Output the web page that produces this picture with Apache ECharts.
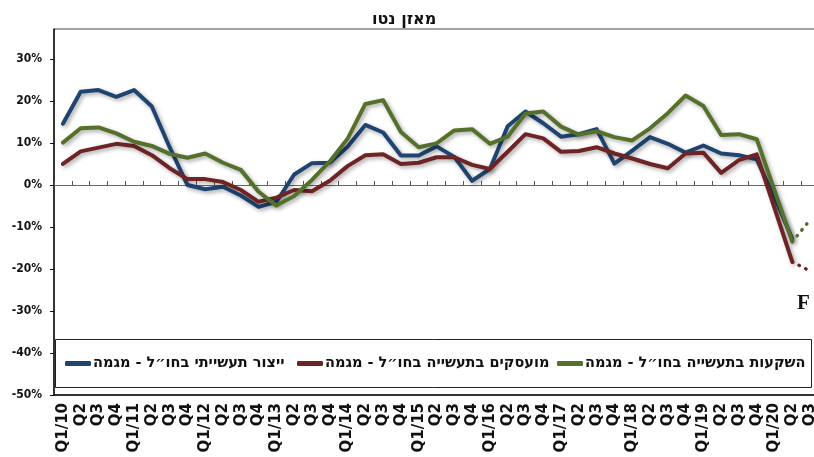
<!DOCTYPE html>
<html><head><meta charset="utf-8">
<script src="https://cdn.jsdelivr.net/npm/echarts@6/dist/echarts.min.js"></script>
<style>html,body{margin:0;padding:0;background:#fff}#c{width:814px;height:457px}</style>
</head><body><div id="c"></div>
<script>
const categories = [
  'Q1/10','Q2','Q3','Q4','Q1/11','Q2','Q3','Q4','Q1/12','Q2','Q3','Q4',
  'Q1/13','Q2','Q3','Q4','Q1/14','Q2','Q3','Q4','Q1/15','Q2','Q3','Q4',
  'Q1/16','Q2','Q3','Q4','Q1/17','Q2','Q3','Q4','Q1/18','Q2','Q3','Q4',
  'Q1/19','Q2','Q3','Q4','Q1/20','Q2','Q3'
];
const seriesNames = ['ייצור תעשייתי בחו״ל - מגמה','מועסקים בתעשייה בחו״ל - מגמה','השקעות בתעשייה בחו״ל - מגמה'];
const production = [14.6,22.2,22.6,21.0,22.6,18.7,9.0,0.0,-1.0,-0.4,-2.5,-5.2,-4.0,2.5,5.2,5.3,9.1,14.3,12.5,7.0,7.0,9.2,6.7,1.0,3.8,14.0,17.5,14.7,11.5,12.1,13.3,5.1,8.2,11.4,9.8,7.7,9.4,7.5,7.1,6.1,-3.0,-12.8,null];
const employees = [5.0,8.0,8.9,9.8,9.3,7.1,4.0,1.4,1.4,0.7,-1.2,-4.0,-3.0,-1.2,-1.5,1.0,4.5,7.1,7.3,5.0,5.3,6.6,6.6,4.8,3.8,7.9,12.1,11.1,7.9,8.1,9.0,7.5,6.3,5.0,4.0,7.5,7.7,2.9,5.9,7.3,-5.5,-18.3,null];
const investment = [10.1,13.5,13.7,12.3,10.3,9.3,7.4,6.5,7.5,5.3,3.6,-1.6,-4.9,-2.6,1.2,5.6,11.0,19.3,20.2,12.6,9.0,9.9,13.0,13.3,9.8,11.5,17.0,17.5,13.9,12.0,12.8,11.4,10.6,13.5,17.1,21.3,18.8,11.9,12.1,10.9,-1.3,-13.5,null];
const forecastStartIndex = 41;
const employeesForecastEnd = -20.5;
const investmentForecastEnd = -8.3;
const yMin = -50, yMax = 37.14, yStep = 10;

function forecast(arr, endVal) {
  return categories.map((c, i) => i === forecastStartIndex ? arr[i] : (i === forecastStartIndex + 1 ? endVal : null));
}
const colors = ['#1F4470', '#6E2424', '#55702B'];
const font = '"DejaVu Sans", Verdana, sans-serif';
const shadow = {shadowColor:'rgba(0,0,0,0.35)', shadowBlur:4, shadowOffsetX:2, shadowOffsetY:2};

function mainSeries(name, data, color, z) {
  return {name, type:'line', data, symbol:'none', z, color,
    lineStyle:Object.assign({color, width:4, join:'round', cap:'round'}, shadow),
    emphasis:{disabled:true}, animation:false};
}
function dotSeries(name, data, color, z) {
  return {name: name + ' F', type:'line', data, symbol:'none', z, color,
    lineStyle:{color, width:3.5, type:[0.5,7], cap:'round'},
    emphasis:{disabled:true}, animation:false};
}
function legend(idx, left) {
  return {data:[seriesNames[idx]], left, top:356, padding:0, icon:'roundRect',
    itemWidth:26, itemHeight:5, itemGap:0, selectedMode:false,
    textStyle:{fontFamily:font, fontWeight:'bold', fontSize:14.5, color:'#111', padding:[0,0,0,-3]}};
}

const chart = echarts.init(document.getElementById('c'), null, {renderer:'canvas'});
chart.setOption({
  animation:false,
  title:{text:'מאזן נטו', left:372, top:12, padding:0,
    textStyle:{fontFamily:font, fontWeight:'bold', fontSize:16, color:'#111'}},
  grid:{left:54, width:765, top:29, bottom:62, outerBoundsMode:'none', containLabel:false,
    show:true, borderColor:'#444', borderWidth:1, backgroundColor:'transparent'},
  legend:[legend(0,65), legend(1,297), legend(2,557)],
  xAxis:[
    {type:'category', data:categories, boundaryGap:true,
      axisLine:{onZero:false, lineStyle:{color:'#111', width:1.5}},
      axisTick:{show:false},
      axisLabel:{interval:0, rotate:90, margin:8, fontFamily:font, fontWeight:'bold', fontSize:15, color:'#111'}},
    {type:'category', data:categories, boundaryGap:true, position:'bottom',
      axisLine:{onZero:true, lineStyle:{color:'#666', width:1}},
      axisTick:{show:true, inside:true, length:4, interval:0, lineStyle:{color:'#555'}},
      axisLabel:{show:false}}
  ],
  yAxis:{type:'value', min:yMin, max:yMax, interval:yStep,
    axisLine:{show:true, lineStyle:{color:'#111', width:1.5}},
    axisTick:{show:true, length:4, lineStyle:{color:'#111'}},
    splitLine:{show:false},
    axisLabel:{showMaxLabel:false, margin:12, fontFamily:'"DejaVu Sans Condensed", "DejaVu Sans", sans-serif', fontWeight:'bold', fontSize:12, color:'#111',
      formatter:v => (Math.abs(v % yStep) < 1e-6 ? Math.round(v) + '%' : '')}},
  graphic:[
    {type:'rect', z:3, shape:{x:55.5, y:339.5, width:756, height:48}, style:{fill:'#fff', stroke:'#222', lineWidth:1}},
    {type:'text', z:5, x:797, y:293, style:{text:'F', font:'bold 21px "Liberation Serif", "Times New Roman", serif', fill:'#111'}}
  ],
  series:[
    mainSeries(seriesNames[0], production, colors[0], 2),
    mainSeries(seriesNames[1], employees, colors[1], 3),
    mainSeries(seriesNames[2], investment, colors[2], 4),
    dotSeries(seriesNames[1], forecast(employees, employeesForecastEnd), colors[1], 3),
    dotSeries(seriesNames[2], forecast(investment, investmentForecastEnd), colors[2], 4)
  ]
});
</script></body></html>
